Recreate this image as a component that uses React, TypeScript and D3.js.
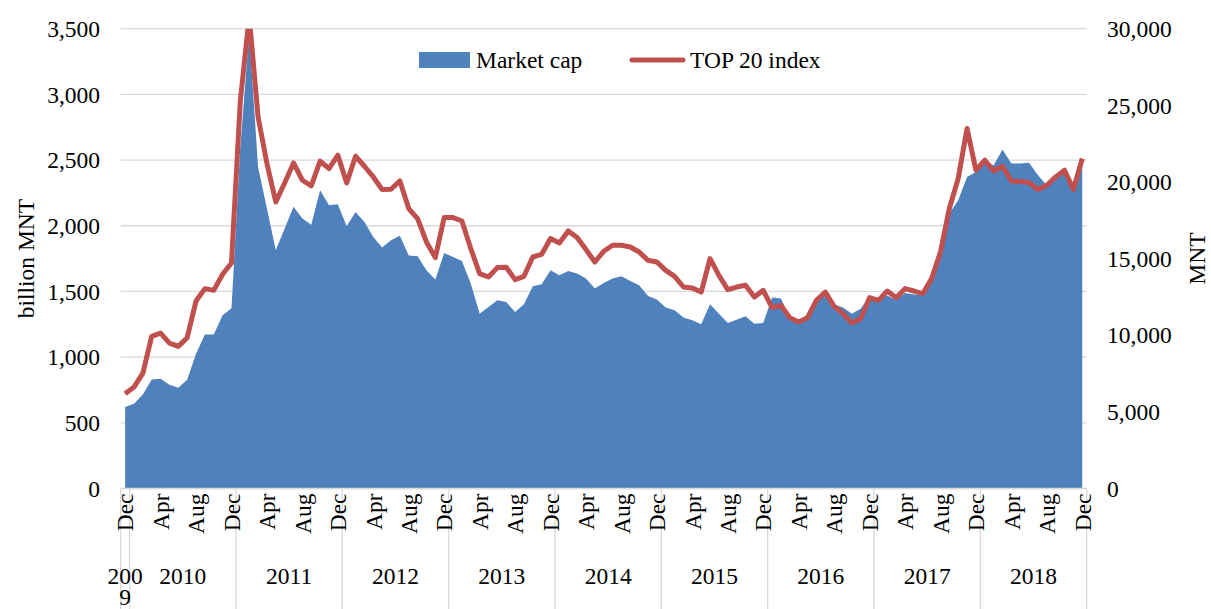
import React, { useEffect, useRef } from 'react'
import * as d3 from 'd3'

// monthly, Dec 2009 .. Dec 2018
const marketCap = [
  620, 645, 716, 830, 836, 790, 767, 828, 1026, 1173, 1173, 1318, 1372,
  2600, 3467, 2448, 2131, 1814, 1979, 2144, 2055, 2008, 2270, 2156, 2164,
  1996, 2105, 2029, 1915, 1834, 1890, 1923, 1773, 1768, 1661, 1590, 1793,
  1762, 1732, 1560, 1331, 1382, 1433, 1420, 1344, 1402, 1539, 1554, 1661,
  1623, 1656, 1636, 1598, 1522, 1564, 1598, 1615, 1580, 1547, 1465, 1438,
  1377, 1356, 1301, 1280, 1250, 1402, 1331, 1260, 1285, 1311, 1255, 1260,
  1453, 1446, 1301, 1267, 1301, 1433, 1471, 1402, 1377, 1331, 1369, 1463,
  1446, 1470, 1433, 1488, 1476, 1471, 1570, 1790, 2093, 2195, 2372, 2410,
  2486, 2461, 2581, 2474, 2474, 2479, 2385, 2309, 2360, 2418, 2260, 2460,
]

const top20 = [
  6184, 6615, 7530, 9926, 10142, 9488, 9273, 9840, 12231, 13040, 12929, 13974, 14712,
  25300, 30800, 24246, 21203, 18696, 19937, 21243, 20112, 19750, 21360, 20876, 21745,
  19937, 21680, 21027, 20328, 19505, 19525, 20068, 18265, 17611, 16084, 15065, 17677,
  17677, 17455, 15653, 14020, 13798, 14412, 14430, 13628, 13844, 15104, 15280, 16305,
  16018, 16802, 16371, 15587, 14778, 15476, 15868, 15868, 15758, 15431, 14888, 14778,
  14235, 13844, 13145, 13080, 12819, 15000, 13909, 12975, 13145, 13256, 12492, 12929,
  11800, 11950, 11147, 10860, 11147, 12276, 12819, 11885, 11408, 10794, 11082, 12453,
  12276, 12884, 12453, 13040, 12884, 12714, 13694, 15431, 18265, 20224, 23489, 20765,
  21418, 20720, 21027, 20068, 20024, 19959, 19505, 19786, 20328, 20765, 19505, 21530,
]

const monthNames = ['Jan', 'Feb', 'Mar', 'Apr', 'May', 'Jun', 'Jul', 'Aug', 'Sep', 'Oct', 'Nov', 'Dec']
const years = ['2009', '2010', '2011', '2012', '2013', '2014', '2015', '2016', '2017', '2018']
const yearMonths = [1, 12, 12, 12, 12, 12, 12, 12, 12, 12]
const leftTicks = [0, 500, 1000, 1500, 2000, 2500, 3000, 3500]
const rightTicks = [0, 5000, 10000, 15000, 20000, 25000, 30000]
const seriesNames = ['Market cap', 'TOP 20 index']

const W = 1211, H = 609
const BLUE = '#4f81bd', RED = '#c0504d', GRID = '#d9d9d9'
const FONT = '"Liberation Serif", "Times New Roman", serif'
const FS = 23.5

function App() {
  const ref = useRef<SVGSVGElement>(null)

  useEffect(() => {
    const svg = d3.select(ref.current)
    svg.selectAll('*').remove()

    const left = 120.7, right = 1086.7, top = 28.7, bottom = 488.5
    const n = marketCap.length

    const x = d3.scaleBand<number>().domain(d3.range(n)).range([left, right])
    const cx = (i: number) => (x(i) as number) + x.bandwidth() / 2
    const yL = d3.scaleLinear().domain([0, 3500]).range([bottom, top])
    const yR = d3.scaleLinear().domain([0, 30000]).range([bottom, top])

    svg.append('defs').append('clipPath').attr('id', 'plotclip')
      .append('rect').attr('x', left).attr('y', top).attr('width', right - left).attr('height', bottom - top)

    // gridlines
    svg.append('g').selectAll('line').data(leftTicks).enter().append('line')
      .attr('x1', left).attr('x2', right)
      .attr('y1', d => yL(d)).attr('y2', d => yL(d))
      .attr('stroke', GRID).attr('stroke-width', 1.3)

    const plot = svg.append('g').attr('clip-path', 'url(#plotclip)')

    const area = d3.area<number>()
      .x((d, i) => cx(i))
      .y0(bottom)
      .y1(d => yL(d))
    plot.append('path').datum(marketCap).attr('d', area).attr('fill', BLUE)

    const line = d3.line<number>()
      .x((d, i) => cx(i))
      .y(d => yR(d))
    plot.append('path').datum(top20).attr('d', line)
      .attr('fill', 'none').attr('stroke', RED).attr('stroke-width', 5)
      .attr('stroke-linejoin', 'round')

    // category axis line
    svg.append('line').attr('x1', left).attr('x2', right).attr('y1', bottom).attr('y2', bottom)
      .attr('stroke', GRID).attr('stroke-width', 1.3)

    // year group boundaries
    const starts = [0]
    yearMonths.forEach((m, i) => starts.push(starts[i] + m))
    svg.append('g').selectAll('line').data(starts).enter().append('line')
      .attr('x1', d => d < n ? (x(d) as number) : right)
      .attr('x2', d => d < n ? (x(d) as number) : right)
      .attr('y1', bottom).attr('y2', H)
      .attr('stroke', GRID).attr('stroke-width', 1.3)

    const txt = (g: any) => g.attr('font-family', FONT).attr('font-size', FS).attr('fill', '#000')

    // month labels, every 4th month
    const monthIdx = d3.range(0, n, 4)
    svg.append('g').selectAll('text').data(monthIdx).enter().append('text')
      .call(txt)
      .attr('transform', d => `translate(${cx(d)},${bottom + 5}) rotate(-90)`)
      .attr('text-anchor', 'end').attr('dy', '0.35em')
      .text(d => monthNames[(11 + d) % 12])

    // year labels (narrow 2009 group wraps onto two lines)
    const yl = svg.append('g').selectAll('text').data(years).enter().append('text')
      .call(txt)
      .attr('text-anchor', 'middle')
      .attr('x', (d, i) => {
        const a = x(starts[i]) as number
        return a + (x.step() * yearMonths[i]) / 2
      })
      .attr('y', 584)
    yl.each(function (d, i) {
      const t = d3.select(this)
      if (yearMonths[i] < 4) {
        const xx = t.attr('x')
        t.append('tspan').attr('x', xx).text(d.slice(0, 3))
        t.append('tspan').attr('x', xx).attr('dy', 21).text(d.slice(3))
      } else {
        t.text(d)
      }
    })

    // left axis labels
    svg.append('g').selectAll('text').data(leftTicks).enter().append('text')
      .call(txt)
      .attr('x', 100).attr('y', d => yL(d)).attr('dy', '0.35em')
      .attr('text-anchor', 'end')
      .text(d => d3.format(',')(d))

    // right axis labels
    svg.append('g').selectAll('text').data(rightTicks).enter().append('text')
      .call(txt)
      .attr('x', 1107).attr('y', d => yR(d)).attr('dy', '0.35em')
      .attr('text-anchor', 'start')
      .text(d => d3.format(',')(d))

    // axis titles
    svg.append('text').call(txt)
      .attr('transform', `translate(26,${(top + bottom) / 2}) rotate(-90)`)
      .attr('text-anchor', 'middle').attr('dy', '0.35em')
      .text('billion MNT')
    svg.append('text').call(txt)
      .attr('transform', `translate(1197,${(top + bottom) / 2}) rotate(-90)`)
      .attr('text-anchor', 'middle').attr('dy', '0.35em')
      .text('MNT')

    // legend
    const lg = svg.append('g')
    lg.append('rect').attr('x', 419).attr('y', 52).attr('width', 51).attr('height', 16).attr('fill', BLUE)
    lg.append('text').call(txt).attr('x', 476).attr('y', 60).attr('dy', '0.35em').text(seriesNames[0])
    lg.append('line').attr('x1', 632).attr('x2', 683).attr('y1', 60).attr('y2', 60)
      .attr('stroke', RED).attr('stroke-width', 5).attr('stroke-linecap', 'round')
    lg.append('text').call(txt).attr('x', 690).attr('y', 60).attr('dy', '0.35em').text(seriesNames[1])
  }, [])

  return (
    <svg ref={ref} width={W} height={H}
      style={{ position: 'absolute', left: 0, top: 0, background: '#fff' }} />
  )
}

export default App
